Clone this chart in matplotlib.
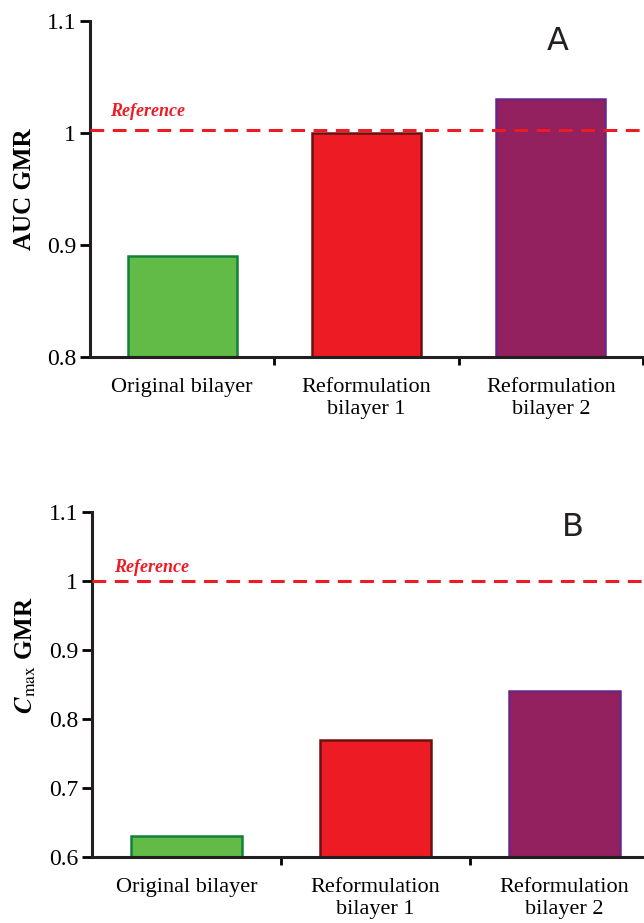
import matplotlib
matplotlib.use("Agg")
import matplotlib.pyplot as plt

plt.rcParams["font.family"] = ["Liberation Serif", "DejaVu Serif"]
plt.rcParams["mathtext.fontset"] = "stix"

# data
categories = ["Original bilayer", "Reformulation\nbilayer 1", "Reformulation\nbilayer 2"]
auc_gmr = [0.89, 1.00, 1.03]
cmax_gmr = [0.63, 0.77, 0.84]
reference_auc = 1.003
reference_cmax = 1.0

fill_colors = ["#62BB46", "#ED1C24", "#93205F"]
edge_colors = ["#12803C", "#6E1010", "#6A2585"]

fig = plt.figure(figsize=(6.44, 9.23), dpi=100)

ax1 = fig.add_axes([90 / 644, 1 - 357 / 923, 553 / 644, 336 / 923])
ax2 = fig.add_axes([92 / 644, 1 - 857 / 923, 567 / 644, 345 / 923])


def draw_panel(ax, values, ref, ylim, yticks, ylabel, label_xy, letter, ref_xy, letter_xy):
    x = list(range(len(categories)))
    ax.bar(x, [v - ylim[0] for v in values], bottom=ylim[0], width=0.59,
           color=fill_colors, edgecolor=edge_colors, linewidth=1.8, zorder=2)
    ax.axhline(ref, color="#ED1C24", linestyle=(0, (4.5, 2.8)), linewidth=2.2, zorder=3)

    ax.set_xlim(-0.5, len(categories) - 0.5)
    ax.set_ylim(*ylim)
    ax.set_yticks(yticks)
    ax.set_yticklabels([("%g" % t) for t in yticks], fontsize=17)

    # boundary ticks as major, labels on minor
    ax.set_xticks([0.5, 1.5, 2.5])
    ax.set_xticklabels([])
    ax.set_xticks(x, minor=True)
    ax.set_xticklabels(categories, minor=True, fontsize=16, linespacing=1.25)
    ax.tick_params(axis="x", which="minor", length=0, pad=15)
    ax.tick_params(axis="x", which="major", length=6, width=2, direction="out")
    ax.tick_params(axis="y", length=7, width=2, direction="out", pad=3)

    for side in ["top", "right"]:
        ax.spines[side].set_visible(False)
    for side in ["left", "bottom"]:
        ax.spines[side].set_linewidth(2.2)
        ax.spines[side].set_color("#231F20")

    ax.set_ylabel(ylabel, fontsize=18, fontweight="bold")
    ax.yaxis.set_label_coords(*label_xy)

    fig.text(ref_xy[0] / 644, 1 - ref_xy[1] / 923, "Reference", color="#ED1C24",
             fontsize=13, fontweight="bold", fontstyle="italic", va="center", ha="left")
    fig.text(letter_xy[0] / 644, 1 - letter_xy[1] / 923, letter, family="DejaVu Sans",
             fontsize=23, color="#231F20", va="center", ha="center")


draw_panel(ax1, auc_gmr, reference_auc, (0.8, 1.1), [0.8, 0.9, 1.0, 1.1],
           "AUC GMR", (-0.097, 0.5), "A", (110, 111), (558, 42))
draw_panel(ax2, cmax_gmr, reference_cmax, (0.6, 1.1), [0.6, 0.7, 0.8, 0.9, 1.0, 1.1],
           r"$\mathbfit{C}_{\mathrm{max}}$ GMR", (-0.096, 0.585), "B", (114, 568), (573, 528))

fig.savefig("out.png", dpi=100)
